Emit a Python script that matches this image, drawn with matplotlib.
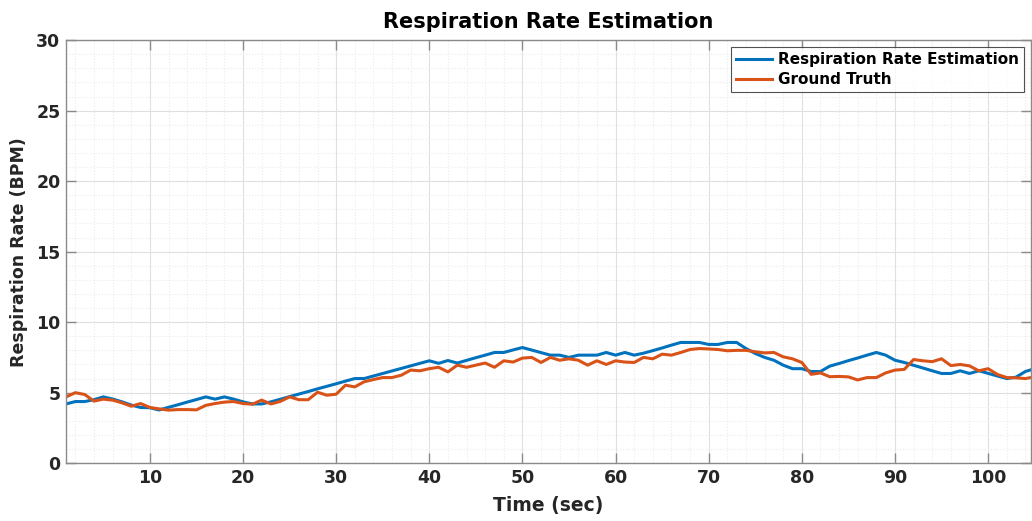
import matplotlib
matplotlib.use('Agg')
import matplotlib.pyplot as plt
import numpy as np
from matplotlib.ticker import MultipleLocator

# time axis (seconds)
time_sec = np.arange(1, 106)

# estimated respiration rate (BPM)
estimation = [
    4.20, 4.37, 4.37, 4.50, 4.70, 4.55, 4.35, 4.12, 3.95, 3.93,
    3.77, 3.96, 4.14, 4.33, 4.51, 4.70, 4.54, 4.70, 4.54, 4.35,
    4.20, 4.20, 4.35, 4.53, 4.72, 4.90, 5.08, 5.27, 5.45, 5.63,
    5.82, 6.00, 6.00, 6.18, 6.36, 6.54, 6.72, 6.90, 7.08, 7.26,
    7.08, 7.28, 7.10, 7.29, 7.48, 7.66, 7.85, 7.85, 8.03, 8.20,
    8.02, 7.84, 7.66, 7.66, 7.50, 7.66, 7.66, 7.66, 7.85, 7.66,
    7.85, 7.66, 7.80, 7.98, 8.17, 8.37, 8.56, 8.56, 8.56, 8.42,
    8.42, 8.56, 8.56, 8.13, 7.78, 7.50, 7.30, 6.95, 6.70, 6.70,
    6.50, 6.50, 6.88, 7.07, 7.27, 7.46, 7.66, 7.85, 7.66, 7.30,
    7.14, 6.94, 6.75, 6.55, 6.36, 6.36, 6.55, 6.36, 6.55, 6.37,
    6.18, 6.00, 6.10, 6.50, 6.70,
]

# reference respiration rate (BPM)
ground_truth = [
    4.70, 5.00, 4.87, 4.40, 4.54, 4.47, 4.28, 4.04, 4.23, 3.95,
    3.85, 3.76, 3.80, 3.80, 3.78, 4.10, 4.23, 4.33, 4.37, 4.23,
    4.18, 4.47, 4.20, 4.38, 4.70, 4.50, 4.50, 5.03, 4.82, 4.89,
    5.53, 5.41, 5.77, 5.93, 6.07, 6.07, 6.24, 6.60, 6.55, 6.70,
    6.80, 6.47, 6.95, 6.80, 6.95, 7.10, 6.80, 7.26, 7.17, 7.45,
    7.50, 7.14, 7.50, 7.30, 7.40, 7.30, 6.95, 7.26, 7.00, 7.26,
    7.17, 7.14, 7.50, 7.40, 7.73, 7.66, 7.85, 8.06, 8.13, 8.10,
    8.06, 7.97, 8.00, 8.00, 7.90, 7.82, 7.85, 7.54, 7.40, 7.14,
    6.30, 6.40, 6.13, 6.15, 6.12, 5.90, 6.07, 6.07, 6.40, 6.60,
    6.65, 7.35, 7.26, 7.20, 7.40, 6.92, 7.00, 6.90, 6.55, 6.70,
    6.29, 6.07, 6.05, 6.00, 6.12,
]

x_ticks = [10, 20, 30, 40, 50, 60, 70, 80, 90, 100]
y_ticks = [0, 5, 10, 15, 20, 25, 30]

plt.rcParams['font.family'] = ['DejaVu Sans']

fig = plt.figure(figsize=(10.32, 5.21), dpi=100)
ax = fig.add_axes([0.064, 0.111, 0.935, 0.812])

ax.plot(time_sec, estimation, color='#0072BD', linewidth=2.2,
        label='Respiration Rate Estimation')
ax.plot(time_sec, ground_truth, color='#D95319', linewidth=2.2,
        label='Ground Truth')

ax.set_xlim(1, 104.6)
ax.set_ylim(0, 30)
ax.set_xticks(x_ticks)
ax.set_yticks(y_ticks)
ax.xaxis.set_minor_locator(MultipleLocator(2))
ax.yaxis.set_minor_locator(MultipleLocator(1))

ax.grid(which='major', color='#e0e0e0', linewidth=0.8, linestyle='-')
ax.grid(which='minor', color='#ebebeb', linewidth=0.8, linestyle=':')
ax.set_axisbelow(True)

ax.tick_params(which='major', direction='in', length=7, width=1,
               color='#8a8a8a', top=True, right=True, labelsize=12.5,
               colors='#262626', pad=4)
ax.tick_params(which='minor', length=0, top=True, right=True)
for lbl in ax.get_xticklabels() + ax.get_yticklabels():
    lbl.set_fontweight('bold')
for spine in ax.spines.values():
    spine.set_color('#8a8a8a')
    spine.set_linewidth(1.0)

ax.set_xlabel('Time (sec)', fontsize=13.5, fontweight='bold', color='#262626',
              labelpad=7)
ax.set_ylabel('Respiration Rate (BPM)', fontsize=12.5, fontweight='bold',
              color='#262626', labelpad=6)
ax.set_title('Respiration Rate Estimation', fontsize=15, fontweight='bold',
             pad=9)

leg = ax.legend(loc='upper right', fontsize=11, frameon=True, fancybox=False,
                borderpad=0.35, handlelength=2.3, handletextpad=0.4,
                labelspacing=0.3, borderaxespad=0.45)
leg.get_frame().set_edgecolor('#262626')
leg.get_frame().set_linewidth(0.8)
for txt in leg.get_texts():
    txt.set_fontweight('bold')

fig.savefig('out.png', dpi=100)
